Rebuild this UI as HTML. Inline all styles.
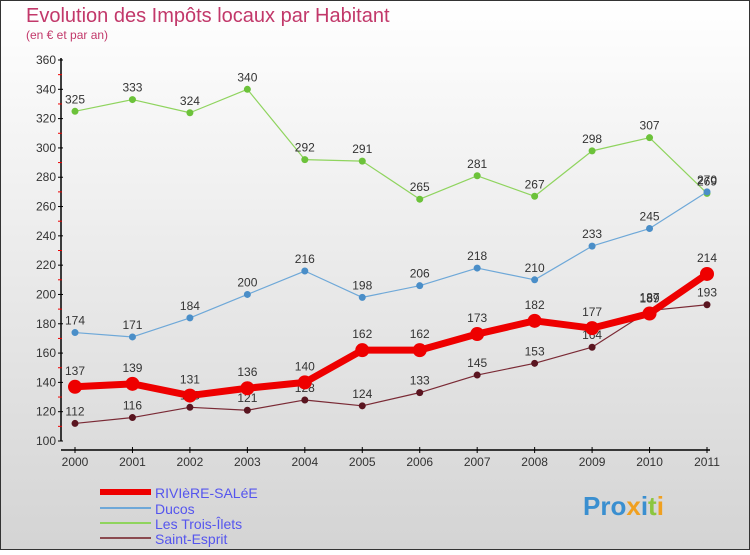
<!DOCTYPE html>
<html><head><meta charset="utf-8"><style>
body{margin:0;width:750px;height:550px;overflow:hidden;font-family:"Liberation Sans",sans-serif}
svg text{font-family:"Liberation Sans",sans-serif}
</style></head><body>
<svg id="chart" width="750" height="550" xmlns="http://www.w3.org/2000/svg">
<defs><linearGradient id="bg" x1="0" y1="0" x2="0" y2="1"><stop offset="0" stop-color="#ffffff"/><stop offset="1" stop-color="#d4d4d4"/></linearGradient></defs>
<rect x="0.5" y="0.5" width="749" height="549" fill="url(#bg)" stroke="#333" stroke-width="1"/>
<text x="26" y="22" font-size="20" fill="#c2386a">Evolution des Impôts locaux par Habitant</text>
<text x="26" y="39" font-size="12" fill="#c2386a">(en € et par an)</text>
<g id="axes"></g><g id="series"></g><g id="legend"></g>
<text x="583" y="515" font-size="26" font-weight="bold" fill="#3a8fd0">Pro<tspan fill="#f0a020">x</tspan><tspan fill="#3a8fd0">i</tspan><tspan fill="#8cc63f">t</tspan><tspan fill="#f0a020">i</tspan></text>
</svg>
<script>
const years=[2000,2001,2002,2003,2004,2005,2006,2007,2008,2009,2010,2011];
const yTicks=[100,120,140,160,180,200,220,240,260,280,300,320,340,360];
const riviere=[137,139,131,136,140,162,162,173,182,177,187,214];
const ducos=[174,171,184,200,216,198,206,218,210,233,245,270];
const troisIlets=[325,333,324,340,292,291,265,281,267,298,307,269];
const saintEsprit=[112,116,123,121,128,124,133,145,153,164,189,193];
const NS="http://www.w3.org/2000/svg";
const X=i=>75+i*(707-75)/11;
const Y=v=>441-(v-100)*(441-60)/260;
function mk(tag,attrs,parent){const e=document.createElementNS(NS,tag);for(const k in attrs)e.setAttribute(k,attrs[k]);parent.appendChild(e);return e;}
const axes=document.getElementById('axes');
let a=mk('line',{x1:61,y1:58,x2:61,y2:441,stroke:'#000','stroke-width':1.5},axes);


a=mk('line',{x1:61,y1:450,x2:710,y2:450,stroke:'#000','stroke-width':1.5},axes);


yTicks.forEach((v,i)=>{
 const t=mk('line',{x1:58,y1:Y(v),x2:63,y2:Y(v),stroke:'#000'},axes);
 
 
 const l=mk('text',{x:56,y:Y(v)+4,'font-size':12,fill:'#333','text-anchor':'end'},axes);
 l.textContent=v;
 
 
 if(i<yTicks.length-1){const m=mk('line',{x1:58,y1:Y(v+10),x2:62,y2:Y(v+10),stroke:'#e00'},axes);
 
 }
});
years.forEach((y,i)=>{
 const t=mk('line',{x1:X(i),y1:447,x2:X(i),y2:453,stroke:'#000'},axes);
 
 
 const l=mk('text',{x:X(i),y:466,'font-size':12,fill:'#333','text-anchor':'middle'},axes);
 l.textContent=y;
 
 
});
const sg=document.getElementById('series');
const defs=[
 {name:'les-trois-ilets',data:troisIlets,color:'#8fd45e',dot:'#6cc23a',w:1.2,r:3.5},
 {name:'ducos',data:ducos,color:'#6ea8d8',dot:'#4a8ec8',w:1.2,r:3.5},
 {name:'saint-esprit',data:saintEsprit,color:'#7a2a35',dot:'#5a1520',w:1.2,r:3.5},
 {name:'riviere-salee',data:riviere,color:'#ee0000',dot:'#ee0000',w:7,r:7}
];
defs.forEach(s=>{
 const g=mk('g',{},sg);
 
 
 const p=mk('polyline',{points:s.data.map((v,i)=>X(i)+','+Y(v)).join(' '),fill:'none',stroke:s.color,'stroke-width':s.w,'stroke-linejoin':'round'},g);
 
 
 s.data.forEach((v,i)=>{
  const c=mk('circle',{cx:X(i),cy:Y(v),r:s.r,fill:s.dot},g);
  
  
  const t=mk('text',{x:X(i),y:Y(v)-(s.w>3?12:8),'font-size':12,fill:'#333','text-anchor':'middle'},g);
  t.textContent=v;
  
  
 });
});
const lg=document.getElementById('legend');
const leg=[['RIVIèRE-SALéE','#ee0000',6,492],['Ducos','#6ea8d8',2,508],['Les Trois-Îlets','#8fd45e',2,523],['Saint-Esprit','#8a4a50',2,538]];
leg.forEach(e=>{
 const g=mk('g',{},lg);
 
 
 const l=mk('line',{x1:100,y1:e[3],x2:151,y2:e[3],stroke:e[1],'stroke-width':e[2]},g);
 
 
 const t=mk('text',{x:155,y:e[3]+6,'font-size':14,fill:'#5555ee'},g);
 t.textContent=e[0];
 
 
});
</script>
</body></html>
